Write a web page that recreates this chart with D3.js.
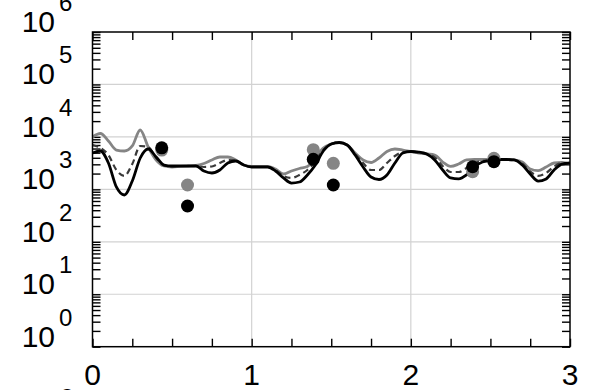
<!DOCTYPE html>
<html><head><meta charset="utf-8">
<script src="https://cdn.jsdelivr.net/npm/d3@7"></script>
<style>html,body{margin:0;padding:0;background:#fff;overflow:hidden}svg{display:block}</style>
</head><body><svg id="c" width="589" height="390"></svg>
<script>
// x positions shared by the three curves (step 0.05 from 0 to 3)
const xs = d3.range(61).map(i => +(i * 0.05).toFixed(2));
const grayLine = [9960,11610,8350,5620,5380,6710,13550,6420,3630,2790,2670,2730,2790,2850,3110,3630,4140,4140,3630,2910,2730,2730,2730,2440,1960,2240,2500,2730,4140,6140,7320,7820,7010,4930,3630,3250,3960,5270,5880,5620,5270,4930,4720,4520,3320,2730,3040,3630,3710,3710,3710,3740,3710,3630,3320,2440,2270,2670,3180,3250,3040];
const dashedLine = [7010,6140,4520,2340,1800,3040,6710,6420,3960,2850,2730,2790,2790,2790,2670,2730,3180,3630,3550,2910,2670,2670,2670,2340,1800,1650,1880,2340,3470,5620,7320,7820,7010,4720,3180,2340,2340,3180,4320,5150,5270,5040,4720,4050,2790,2140,2140,2550,3180,3470,3630,3720,3710,3630,3110,2190,1800,2050,2730,3180,3110];
const blackLine = [4930,5380,3180,1110,780,1440,3960,5880,4140,2910,2790,2790,2790,2790,2240,2050,2340,3180,3470,2910,2670,2670,2670,2240,1650,1320,1380,1880,2910,5380,7320,7820,7010,4520,2670,1720,1540,1880,3180,4930,5270,5150,4720,3630,2340,1650,1580,1880,2670,3320,3550,3710,3710,3630,2910,1960,1440,1580,2340,3040,3180];
// scatter points
const pointX = [0.435, 0.597, 1.387, 1.513, 2.388, 2.522];
const grayPoints = [5600, 1210, 5700, 3140, 2170, 3900];
const blackPoints = [6200, 482, 3740, 1210, 2700, 3370];
// tick labels
const xTickVals = [0, 1, 2, 3];
const yDecades = [0, 1, 2, 3, 4, 5, 6];

const svg = d3.select("#c");
const L = 92.5, R = 570, T = 32, B = 346.7;
const x = d3.scaleLinear().domain([0, 3]).range([L, R]);
const y = d3.scaleLog().domain([1, 1e6]).range([B, T]);
const font = "'Liberation Sans', Arial, sans-serif";

// grid
const g = svg.append("g");
g.selectAll("line.vg").data([1, 2]).enter().append("line")
  .attr("x1", d => x(d)).attr("x2", d => x(d)).attr("y1", T).attr("y2", B)
  .attr("stroke", "#d2d2d2").attr("stroke-width", 1.2);
g.selectAll("line.hg").data([1, 2, 3, 4, 5]).enter().append("line")
  .attr("x1", L).attr("x2", R).attr("y1", d => y(Math.pow(10, d))).attr("y2", d => y(Math.pow(10, d)))
  .attr("stroke", "#d2d2d2").attr("stroke-width", 1.2);

// ticks via axes (inward, no labels)
const xt = d3.range(13).map(i => i * 0.25);
const ax = (a) => a.tickSizeInner(-8).tickSizeOuter(0).tickFormat("");
const yTicks = y.ticks();
const axes = svg.append("g");
axes.append("g").attr("transform", `translate(0,${B})`).call(ax(d3.axisBottom(x).tickValues(xt)));
axes.append("g").attr("transform", `translate(0,${T})`).call(ax(d3.axisTop(x).tickValues(xt)));
axes.append("g").attr("transform", `translate(${L},0)`).call(ax(d3.axisLeft(y).tickValues(yTicks)));
axes.append("g").attr("transform", `translate(${R},0)`).call(ax(d3.axisRight(y).tickValues(yTicks)));
axes.selectAll(".domain").remove();
axes.selectAll(".tick line").attr("stroke", "#000").attr("stroke-width", 1.4);

// lines
const line = d3.line().x((d, i) => x(xs[i])).y(d => y(d)).curve(d3.curveMonotoneX);
svg.append("path").datum(grayLine).attr("d", line).attr("fill", "none")
  .attr("stroke", "#858585").attr("stroke-width", 2.8).attr("stroke-linejoin", "round");
svg.append("path").datum(dashedLine).attr("d", line).attr("fill", "none")
  .attr("stroke", "#3a3a3a").attr("stroke-width", 2.2).attr("stroke-dasharray", "6,4");
svg.append("path").datum(blackLine).attr("d", line).attr("fill", "none")
  .attr("stroke", "#000").attr("stroke-width", 2.8).attr("stroke-linejoin", "round");

// points
svg.selectAll("circle.gp").data(grayPoints).enter().append("circle")
  .attr("cx", (d, i) => x(pointX[i])).attr("cy", d => y(d)).attr("r", 6.5).attr("fill", "#858585");
svg.selectAll("circle.bp").data(blackPoints).enter().append("circle")
  .attr("cx", (d, i) => x(pointX[i])).attr("cy", d => y(d)).attr("r", 6.5).attr("fill", "#000");

// frame
svg.append("rect").attr("x", L).attr("y", T).attr("width", R - L).attr("height", B - T)
  .attr("fill", "none").attr("stroke", "#000").attr("stroke-width", 1.5);

// y labels
const yl = svg.append("g").attr("font-family", font).attr("fill", "#000");
yDecades.forEach(k => {
  const yy = y(Math.pow(10, k));
  yl.append("text").attr("x", 55).attr("y", yy).attr("text-anchor", "end")
    .attr("font-size", 30).text("10");
  yl.append("text").attr("x", 59).attr("y", yy - 21).attr("font-size", 24).text(String(k));
});
// x labels
svg.selectAll("text.xl").data(xTickVals).enter().append("text")
  .attr("x", d => x(d)).attr("y", 385).attr("text-anchor", "middle")
  .attr("font-family", font).attr("font-size", 30).text(d => d);
// partially clipped glyph at bottom left
svg.append("text").attr("x", 67).attr("y", 408.5).attr("text-anchor", "middle")
  .attr("font-family", font).attr("font-size", 30).text("0");
</script></body></html>
